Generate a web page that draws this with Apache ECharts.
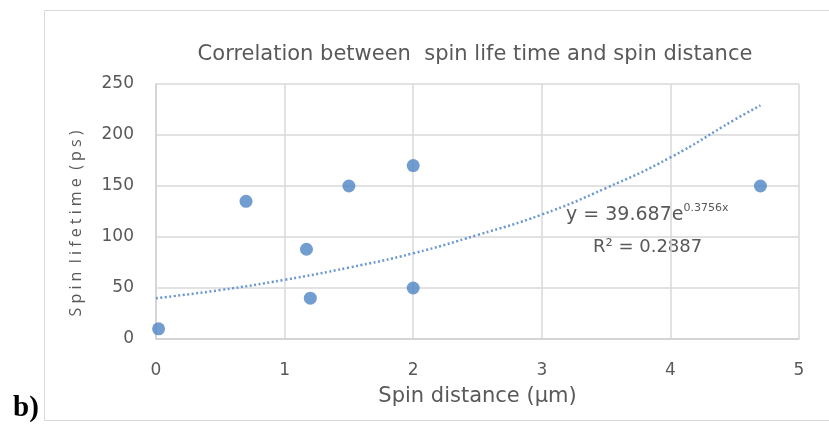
<!DOCTYPE html>
<html>
<head>
<meta charset="utf-8">
<script src="https://cdn.jsdelivr.net/npm/echarts@6/dist/echarts.min.js"></script>
<style>
    html, body { margin: 0; padding: 0; background: #fff; }
    #chart { width: 829px; height: 427px; }
</style>
</head>
<body>
<div id="chart"></div>
<script>
    // measured points (spin distance um, spin lifetime ps)
    var distance = [0.02, 0.7, 1.17, 1.2, 1.5, 2.0, 2.0, 4.7];
    var lifetime = [10, 135, 88, 40, 150, 170, 50, 150];

    // exponential trendline
    var trendX = [0, 0.5, 1, 1.5, 2, 2.5, 3, 3.5, 4, 4.5, 4.7];
    var trendY = [40, 48, 58, 70, 84, 102, 122, 148, 178, 215, 229];

    var xTicks = [0, 1, 2, 3, 4, 5];
    var yTicks = [0, 50, 100, 150, 200, 250];

    var blue = '#4f84c4';
    var grey = '#595959';
    var font = 'DejaVu Sans';

    var chart = echarts.init(document.getElementById('chart'));
    chart.setOption({
        animation: false,
        textStyle: { fontFamily: font },
        title: {
            text: 'Correlation between  spin life time and spin distance',
            left: 470,
            top: 39,
            textAlign: 'center',
            textStyle: { fontFamily: font, fontSize: 21, fontWeight: 'normal', color: grey }
        },
        grid: { left: 156, right: 30, top: 84, bottom: 88 },
        xAxis: {
            type: 'value',
            min: xTicks[0],
            max: xTicks[xTicks.length - 1],
            interval: 1,
            name: 'Spin distance (\u00b5m)',
            nameLocation: 'middle',
            nameGap: 47,
            nameTextStyle: { fontSize: 21, color: grey },
            axisLine: { show: true, lineStyle: { color: '#d0d0d0', width: 1.5 } },
            axisTick: { show: false },
            axisLabel: { fontSize: 17, color: grey, margin: 23 },
            splitLine: { show: true, lineStyle: { color: '#d9d9d9', width: 1.5 } }
        },
        yAxis: {
            type: 'value',
            min: yTicks[0],
            max: yTicks[yTicks.length - 1],
            interval: 50,
            name: 'S p i n  l i f e t i m e  ( p s )',
            nameLocation: 'middle',
            nameGap: 72,
            nameRotate: 90,
            nameTextStyle: { fontFamily: 'Open Sans', fontSize: 16, color: grey, padding: [0, 24, 0, 0] },
            axisLine: { show: true, lineStyle: { color: '#d0d0d0', width: 1.5 } },
            axisTick: { show: false },
            axisLabel: { fontSize: 17, color: grey, margin: 22 },
            splitLine: { show: true, lineStyle: { color: '#d9d9d9', width: 1.5 } }
        },
        series: [
            {
                name: 'trend',
                type: 'line',
                smooth: true,
                symbol: 'none',
                data: trendX.map(function (x, i) { return [x, trendY[i]]; }),
                lineStyle: { color: '#6a98d0', width: 2.5, type: [2, 2.5] },
                z: 1
            },
            {
                name: 'lifetime',
                type: 'scatter',
                symbol: 'circle',
                symbolSize: 13,
                data: distance.map(function (x, i) { return [x, lifetime[i]]; }),
                itemStyle: { color: blue },
                z: 3
            }
        ],
        graphic: [
            {
                type: 'rect',
                shape: { x: 44.5, y: 10.5, width: 800, height: 410 },
                style: { fill: 'none', stroke: '#d9d9d9', lineWidth: 1 },
                silent: true
            },
            {
                type: 'text',
                left: 566,
                top: 203,
                style: {
                    text: '{a|y = 39.687e}{s|0.3756x}',
                    rich: {
                        a: { fontFamily: font, fontSize: 19, fill: grey, verticalAlign: 'bottom' },
                        s: { fontFamily: font, fontSize: 11, fill: grey, verticalAlign: 'top', padding: [0, 0, 11, 0] }
                    }
                }
            },
            {
                type: 'text',
                left: 593,
                top: 238,
                style: { text: 'R\u00b2 = 0.2887', fontFamily: font, fontSize: 18, fill: grey }
            },
            {
                type: 'text',
                left: 13,
                top: 394,
                style: { text: 'b)', fontFamily: 'Liberation Serif', fontWeight: 'bold', fontSize: 29, fill: '#000' }
            }
        ]
    });
</script>
</body>
</html>
